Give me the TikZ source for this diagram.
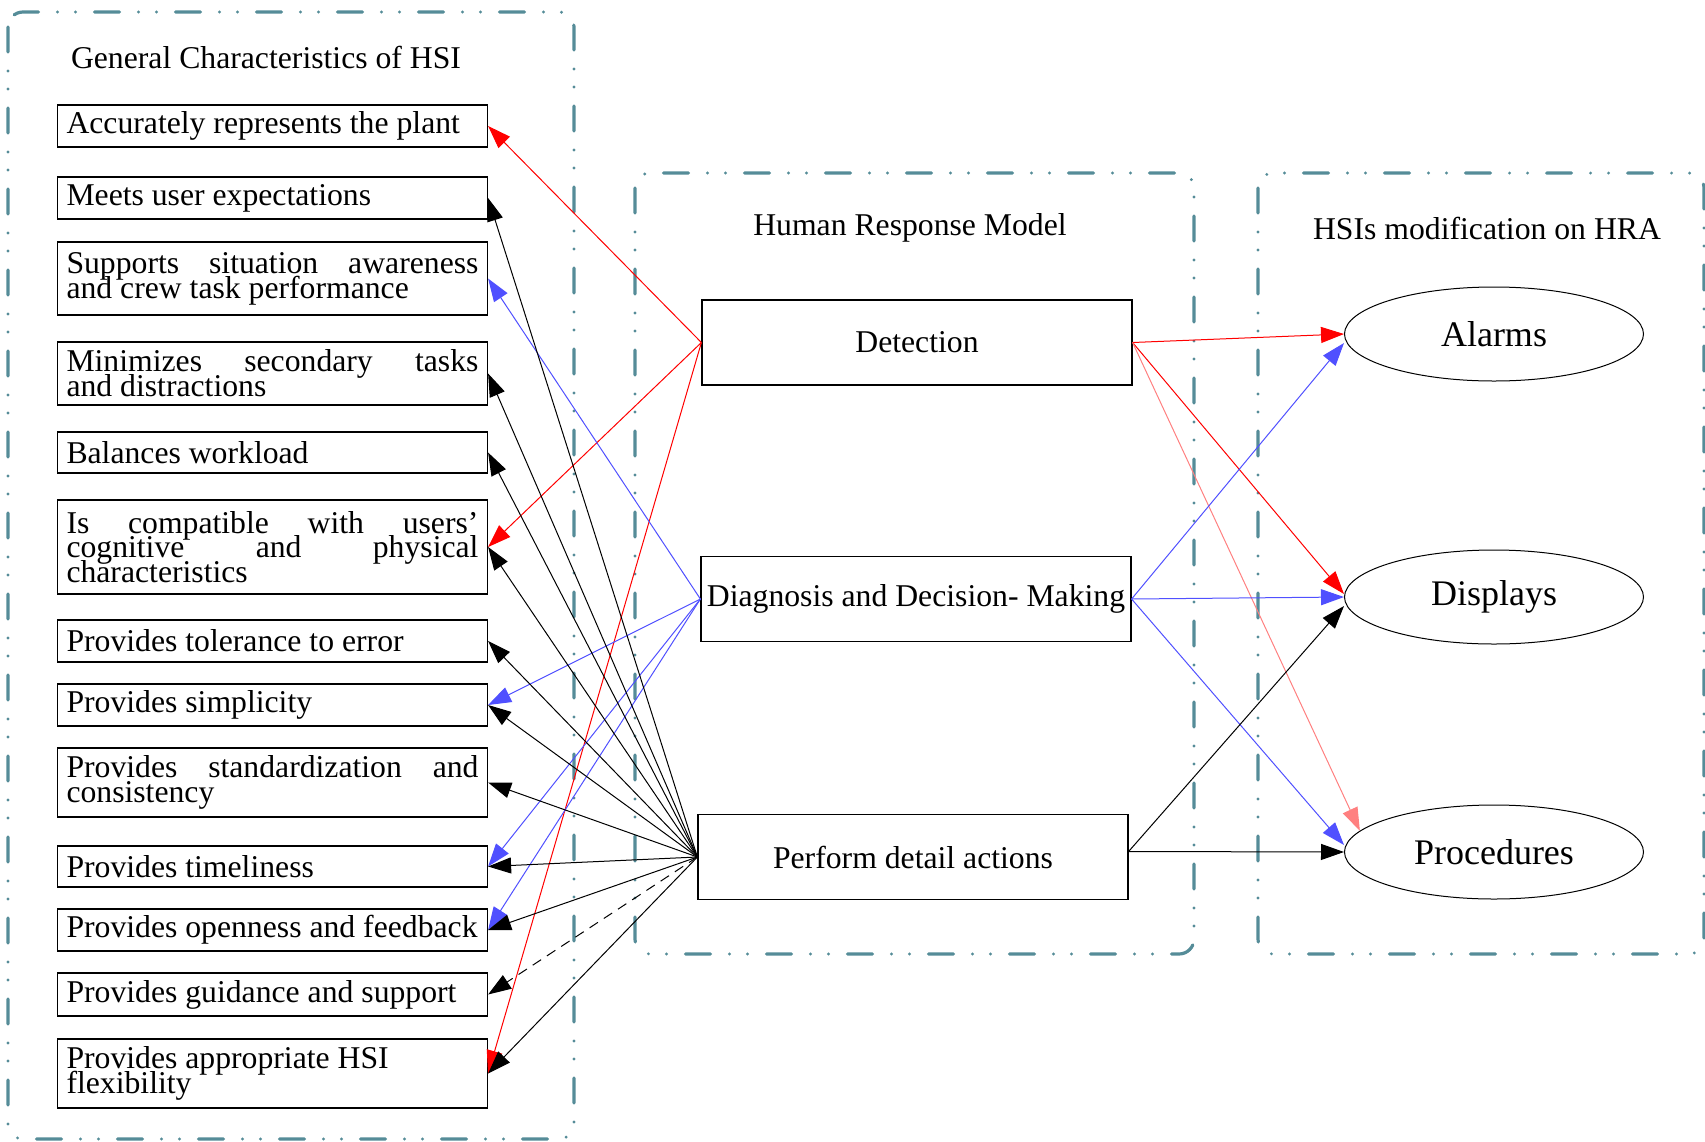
\documentclass[tikz,border=0pt]{standalone}
\usepackage{fontspec}
\setmainfont{Liberation Serif}
\usetikzlibrary{arrows.meta,shapes.geometric}
\definecolor{clusterteal}{RGB}{85,140,152}
\definecolor{edgeblue}{RGB}{80,80,255}
\definecolor{edgepink}{RGB}{255,128,128}
\newcommand\charfont{\fontsize{15.85}{12.4}\selectfont\lineskiplimit=-100pt\relax}

\begin{document}
\begin{tikzpicture}[x=0.5pt,y=-0.5pt,
    cluster/.style={draw=clusterteal,line width=1.6pt,line cap=round,rounded corners=7.5pt,
        dash pattern=on 12.5pt off 9.5pt on 0pt off 9pt on 0pt off 9.5pt},
    clustertitle/.style={inner sep=0pt,font=\fontsize{15.85}{12.5}\selectfont},
    charbox/.style={draw,line width=0.6pt,text width=206pt,inner xsep=4.5pt,inner ysep=0pt,
        align=justify,font=\charfont},
    stagebox/.style={draw,line width=0.6pt,minimum width=215pt,minimum height=42.5pt,
        inner sep=0pt,font=\fontsize{15.85}{12.5}\selectfont},
    hsinode/.style={draw,ellipse,line width=0.5pt,minimum width=149.5pt,minimum height=47pt,
        inner sep=0pt,font=\fontsize{18}{20}\selectfont},
    link/.style={line width=0.5pt,-{Triangle[length=11.5pt,width=8pt]}}]
    \useasboundingbox (0,0) rectangle (1705,1142);

    % Clusters
    \draw [cluster] (8,12) rectangle (574,1139);%
    \draw [cluster] (635,173) rectangle (1194,954);%
    \draw [cluster] (1258,173) rectangle (1704,954);%
    \node [clustertitle] (charstitle) at (266,57) {General Characteristics of HSI};%
    \node [clustertitle] (hrmtitle) at (910,228) {Human Response Model};%
    \node [clustertitle] (hratitle) at (1487,228) {HSIs modification on HRA};%

    % General characteristics of HSI
    \node [charbox,minimum height=21pt] (accurate) at (272.5,126) {Accurately represents the plant};%
    \node [charbox,minimum height=21pt] (meets) at (272.5,198) {Meets user expectations};%
    \node [charbox,minimum height=36.5pt] (supports) at (272.5,278.5) {Supports situation awareness\linebreak and crew task performance};%
    \node [charbox,minimum height=31.5pt] (minimizes) at (272.5,373.5) {Minimizes secondary tasks\linebreak and distractions};%
    \node [charbox,minimum height=20.5pt] (balances) at (272.5,452.5) {Balances workload};%
    \node [charbox,minimum height=47pt] (compatible) at (272.5,547) {Is compatible with users’\linebreak cognitive and physical\linebreak characteristics};%
    \node [charbox,minimum height=21pt] (tolerance) at (272.5,641) {Provides tolerance to error};%
    \node [charbox,minimum height=21pt] (simplicity) at (272.5,705) {Provides simplicity};%
    \node [charbox,minimum height=34.5pt] (standard) at (272.5,782.5) {Provides standardization and\linebreak consistency};%
    \node [charbox,minimum height=20.5pt] (timeliness) at (272.5,866.5) {Provides timeliness};%
    \node [charbox,minimum height=21pt] (openness) at (272.5,930) {Provides openness and feedback};%
    \node [charbox,minimum height=21.5pt] (guidance) at (272.5,994.5) {Provides guidance and support};%
    \node [charbox,minimum height=34.5pt] (flexible) at (272.5,1073.5) {Provides appropriate HSI\newline flexibility};%

    % Human response model
    \node [stagebox] (detect) at (917,342.5) {Detection};%
    \node [stagebox] (diagnose) at (916,599) {Diagnosis and Decision- Making};%
    \node [stagebox] (perform) at (913,857) {Perform detail actions};%

    % HSI modification on HRA
    \node [hsinode] (alarms) at (1494,334) {Alarms};%
    \node [hsinode] (displays) at (1494,597) {Displays};%
    \node [hsinode] (procedures) at (1494,852) {Procedures};%

    % Edges from Detection
    \draw [link,red] (detect.west) -- (accurate.east);%
    \draw [link,red] (detect.west) -- (compatible.east);%
    \draw [link,red] (detect.west) -- (flexible.east);%
    \draw [link,red] (detect.east) -- (alarms.west);%
    \draw [link,red] (detect.east) -- ([yshift=1.5pt]displays.west);%
    \draw [link,edgepink] (detect.east) -- (procedures.171);%

    % Edges from Diagnosis
    \draw [link,edgeblue] (diagnose.west) -- (supports.east);%
    \draw [link,edgeblue] (diagnose.west) -- (simplicity.east);%
    \draw [link,edgeblue] (diagnose.west) -- (timeliness.east);%
    \draw [link,edgeblue] (diagnose.west) -- (openness.east);%
    \draw [link,edgeblue] (diagnose.east) -- ([yshift=-4.5pt]alarms.west);%
    \draw [link,edgeblue] (diagnose.east) -- (displays.west);%
    \draw [link,edgeblue] (diagnose.east) -- ([yshift=3.5pt]procedures.west);%

    % Edges from Perform
    \draw [link] (perform.west) -- (meets.east);%
    \draw [link] (perform.west) -- (minimizes.east);%
    \draw [link] (perform.west) -- (balances.east);%
    \draw [link] (perform.west) -- (compatible.east);%
    \draw [link] (perform.west) -- (tolerance.east);%
    \draw [link] (perform.west) -- (simplicity.east);%
    \draw [link] (perform.west) -- (standard.east);%
    \draw [link] (perform.west) -- (timeliness.east);%
    \draw [link] (perform.west) -- (openness.east);%
    \draw [link,dash pattern=on 5pt off 3.5pt] (perform.west) -- (guidance.east);%
    \draw [link] (perform.west) -- (flexible.east);%
    \draw [link] ([yshift=2.75pt]perform.east) -- ([yshift=-4.5pt]displays.west);%
    \draw [link] ([yshift=2.75pt]perform.east) -- (procedures.west);%
\end{tikzpicture}
\end{document}
